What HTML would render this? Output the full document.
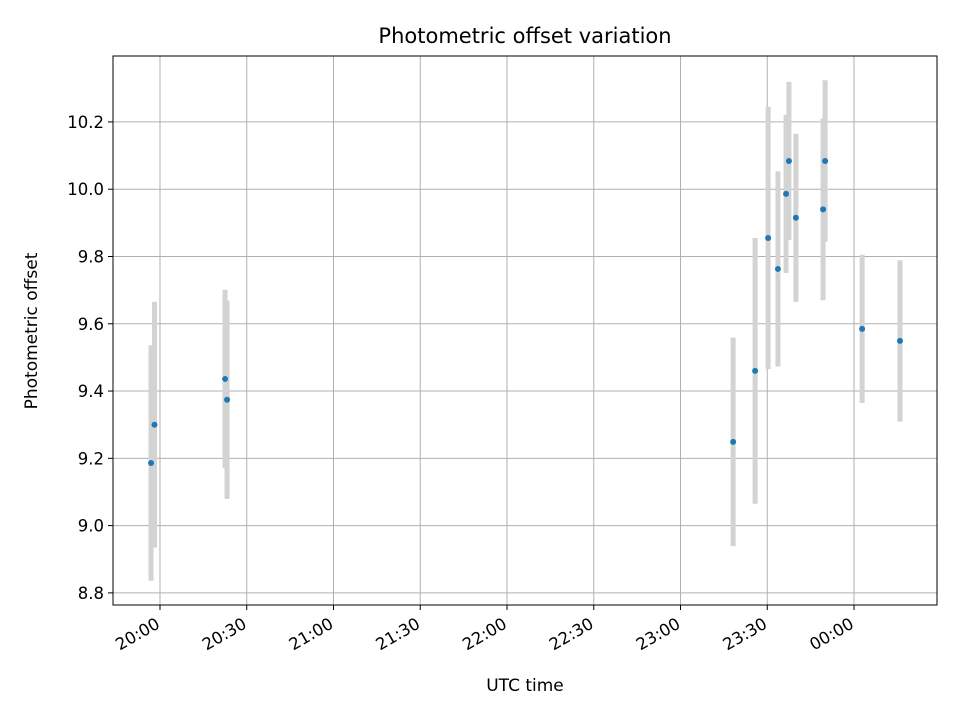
<!DOCTYPE html>
<html><head><meta charset="utf-8"><style>
body{margin:0;background:#fff;font-family:"Liberation Sans","DejaVu Sans",sans-serif}
</style></head><body>
<svg id="chart" width="960" height="720" xmlns="http://www.w3.org/2000/svg" font-family="DejaVu Sans, Liberation Sans, sans-serif">
<rect width="960" height="720" fill="#fff"/>
<g id="grid"></g>
<g id="errs"></g>
<g id="pts"></g>
<rect x="113" y="56" width="824" height="549" fill="none" stroke="#000" stroke-width="1"/>
<g id="ticks"></g>
<text x="525" y="43" text-anchor="middle" font-size="21px">Photometric offset variation</text>
<text x="525" y="691" text-anchor="middle" font-size="17px">UTC time</text>
<text transform="translate(37,331) rotate(-90)" text-anchor="middle" font-size="17px">Photometric offset</text>
</svg>
<script>
// minutes after 20:00 UTC
const times=[-3.1,-1.9,22.5,23.2,198.2,205.8,210.3,213.7,216.5,217.5,219.9,229.3,230.0,242.8,255.9];
const values=[9.186,9.30,9.436,9.374,9.249,9.46,9.855,9.763,9.986,10.084,9.915,9.94,10.084,9.585,9.549];
const errors=[0.35,0.365,0.265,0.295,0.31,0.395,0.39,0.29,0.235,0.235,0.25,0.27,0.24,0.22,0.24];
const xTickMinutes=[0,30,60,90,120,150,180,210,240];
const xTickLabels=["20:00","20:30","21:00","21:30","22:00","22:30","23:00","23:30","00:00"];
const yTicks=[8.8,9.0,9.2,9.4,9.6,9.8,10.0,10.2];
const X0=113,X1=937,Y0=56,Y1=605;
const xMin=-16.25,xMax=268.7,yMin=8.764,yMax=10.396;
const sx=m=>X0+(m-xMin)/(xMax-xMin)*(X1-X0);
const sy=v=>Y1-(v-yMin)/(yMax-yMin)*(Y1-Y0);
const NS="http://www.w3.org/2000/svg";
function mk(tag,attrs,parent){const e=document.createElementNS(NS,tag);for(const k in attrs)e.setAttribute(k,attrs[k]);parent.appendChild(e);return e;}
const grid=document.getElementById('grid'),ticks=document.getElementById('ticks'),errs=document.getElementById('errs'),pts=document.getElementById('pts');
xTickMinutes.forEach((m,i)=>{const x=sx(m);
 const g=mk('line',{x1:x,x2:x,y1:Y0,y2:Y1,stroke:'#b0b0b0','stroke-width':1},grid);
 
 
 const t=mk('line',{x1:x,x2:x,y1:Y1,y2:Y1+5,stroke:'#000'},ticks);
 
 
 const l=mk('text',{transform:`translate(${x+1},${Y1+22}) rotate(-30)`,'text-anchor':'end','font-size':'16.5px'},ticks);
 
 
 l.textContent=xTickLabels[i];});
yTicks.forEach(v=>{const y=sy(v);
 const g=mk('line',{x1:X0,x2:X1,y1:y,y2:y,stroke:'#b0b0b0','stroke-width':1},grid);
 
 
 const t=mk('line',{x1:X0-5,x2:X0,y1:y,y2:y,stroke:'#000'},ticks);
 
 
 const l=mk('text',{x:X0-9,y:y+6,'text-anchor':'end','font-size':'16.5px'},ticks);
 
 
 l.textContent=v.toFixed(1);});
times.forEach((m,i)=>{const x=sx(m);
 const e=mk('line',{x1:x,x2:x,y1:sy(values[i]+errors[i]),y2:sy(values[i]-errors[i]),stroke:'#d3d3d3','stroke-width':5},errs);
 
 
 const p=mk('circle',{cx:x,cy:sy(values[i]),r:3,fill:'#1f77b4'},pts);
 
 });
</script>
</body></html>
